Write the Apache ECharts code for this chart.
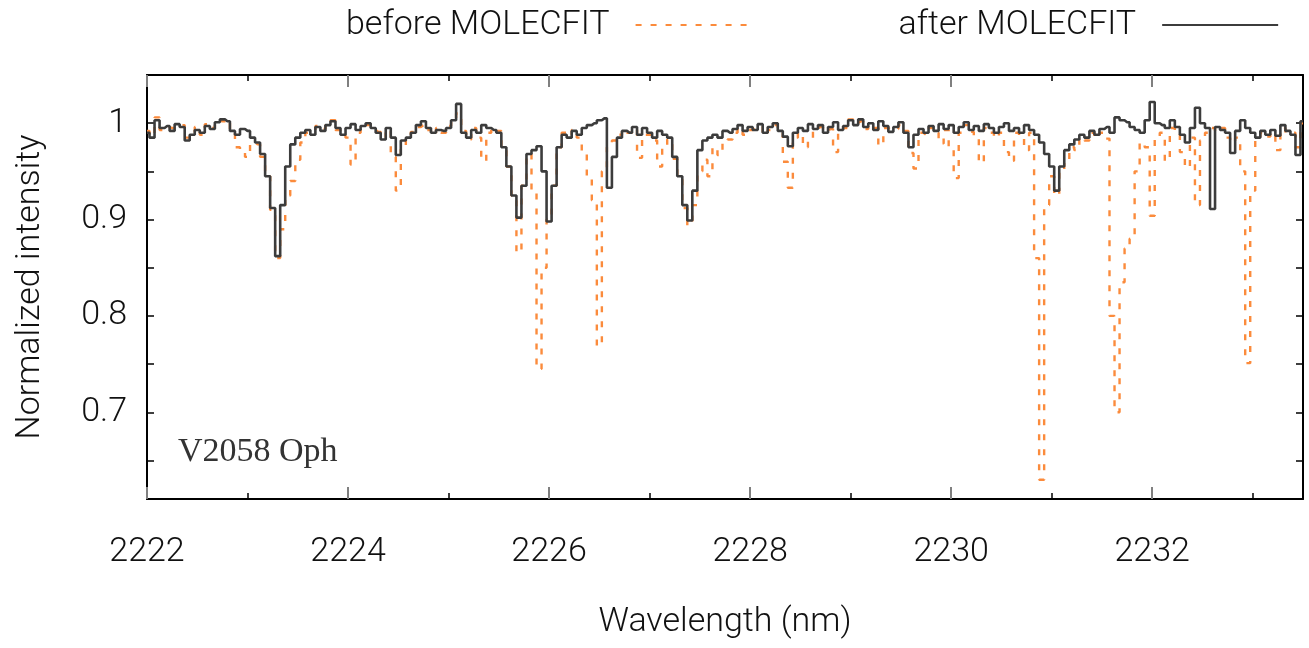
<!DOCTYPE html>
<html>
<head>
<meta charset="utf-8">
<script src="https://cdn.jsdelivr.net/npm/echarts@6/dist/echarts.min.js"></script>
<style>
html, body { margin: 0; background: #fff; }
#chart { width: 1309px; height: 648px; }
</style>
</head>
<body>
<div id="chart"></div>
<script>
// sampling grid of the spectrum (nm)
const wlStart = 2222;
const wlStep = 0.05;

// normalized flux before telluric correction
const beforeFlux = [
  0.992, 0.987, 1.006, 0.993, 0.996, 0.995, 0.997, 0.998, 0.985, 0.990,
  0.996, 0.988, 0.999, 0.995, 1.003, 1.002, 1.004, 0.990, 0.975, 0.970,
  0.965, 0.980, 0.978, 0.965, 0.945, 0.910, 0.860, 0.890, 0.925, 0.940,
  0.962, 0.980, 0.990, 0.992, 0.997, 0.994, 0.999, 1.003, 0.993, 0.990,
  0.985, 0.957, 0.990, 0.995, 0.998, 0.993, 0.991, 0.985, 0.993, 0.965,
  0.930, 0.975, 0.987, 0.991, 0.996, 0.998, 0.993, 0.988, 0.995, 0.990,
  0.997, 1.000, 1.010, 0.992, 0.983, 0.995, 0.985, 0.961, 0.990, 0.995,
  0.992, 0.975, 0.955, 0.925, 0.866, 0.935, 0.968, 0.930, 0.745, 0.850,
  0.900, 0.935, 0.975, 0.990, 0.987, 0.993, 0.985, 0.970, 0.945, 0.920,
  0.769, 0.950, 0.975, 0.982, 0.988, 0.993, 0.990, 0.994, 0.964, 0.988,
  0.988, 0.982, 0.955, 0.975, 0.983, 0.963, 0.943, 0.912, 0.894, 0.915,
  0.950, 0.962, 0.945, 0.975, 0.967, 0.980, 0.983, 0.990, 0.995, 0.988,
  0.993, 0.995, 0.997, 0.988, 0.993, 0.998, 0.990, 0.960, 0.933, 0.985,
  0.990, 0.975, 0.983, 0.995, 0.996, 0.992, 0.994, 0.970, 0.990, 0.995,
  1.004, 1.000, 1.002, 0.994, 0.998, 0.995, 0.977, 0.995, 0.993, 0.994,
  0.998, 0.992, 0.969, 0.953, 0.990, 0.988, 0.995, 0.990, 0.979, 0.993,
  0.975, 0.943, 0.990, 0.998, 0.991, 0.985, 0.959, 0.995, 0.990, 0.985,
  0.990, 0.970, 0.961, 0.990, 0.985, 0.972, 0.990, 0.860, 0.630, 0.915,
  0.945, 0.925, 0.950, 0.960, 0.975, 0.972, 0.985, 0.982, 0.990, 0.985,
  0.990, 0.984, 0.800, 0.700, 0.835, 0.870, 0.880, 0.950, 0.980, 0.975,
  0.904, 0.985, 0.990, 0.961, 0.995, 0.990, 0.970, 0.954, 0.985, 0.915,
  0.982, 0.990, 0.995, 0.992, 0.995, 0.985, 0.980, 0.985, 0.950, 0.751,
  0.930, 0.985, 0.990, 0.986, 0.990, 0.972, 0.995, 0.990, 0.990, 0.975,
  1.000
];

// normalized flux after MOLECFIT
const afterFlux = [
  0.990, 0.985, 1.003, 0.995, 0.997, 0.992, 0.999, 0.996, 0.982, 0.988,
  0.993, 0.990, 0.997, 0.994, 1.001, 1.004, 1.002, 0.992, 0.988, 0.994,
  0.992, 0.985, 0.980, 0.968, 0.945, 0.912, 0.862, 0.915, 0.955, 0.978,
  0.985, 0.990, 0.993, 0.988, 0.996, 0.992, 0.998, 1.002, 0.995, 0.988,
  0.995, 0.999, 0.993, 0.997, 1.000, 0.995, 0.990, 0.983, 0.995, 0.985,
  0.967, 0.982, 0.985, 0.990, 0.998, 1.002, 0.995, 0.990, 0.993, 0.992,
  0.995, 1.003, 1.020, 0.990, 0.985, 0.993, 0.990, 0.998, 0.995, 0.993,
  0.990, 0.975, 0.955, 0.925, 0.902, 0.935, 0.968, 0.972, 0.976, 0.950,
  0.898, 0.935, 0.975, 0.988, 0.985, 0.992, 0.988, 0.995, 0.998, 1.000,
  1.003, 1.005, 0.933, 0.965, 0.985, 0.992, 0.990, 0.996, 0.988, 0.995,
  0.990, 0.985, 0.992, 0.988, 0.985, 0.965, 0.945, 0.915, 0.899, 0.930,
  0.972, 0.982, 0.985, 0.988, 0.985, 0.992, 0.990, 0.994, 0.998, 0.992,
  0.996, 0.993, 0.999, 0.990, 0.996, 1.000, 0.992, 0.986, 0.976, 0.990,
  0.995, 0.992, 0.999, 0.994, 0.998, 0.990, 0.996, 1.001, 0.993, 0.997,
  1.003, 0.998, 1.004, 0.996, 1.000, 0.993, 1.002, 0.997, 0.991, 0.996,
  1.001, 0.990, 0.975, 0.988, 0.994, 0.990, 0.997, 0.992, 0.999, 0.994,
  0.998, 0.990, 0.996, 1.001, 0.993, 0.997, 0.992, 0.999, 0.995, 0.990,
  0.996, 1.000, 0.992, 0.995, 0.990, 0.998, 0.993, 0.988, 0.980, 0.968,
  0.955, 0.930, 0.955, 0.972, 0.978, 0.983, 0.988, 0.985, 0.992, 0.988,
  0.994, 0.996, 0.990, 1.006, 1.003, 1.001, 0.996, 0.993, 0.990, 1.003,
  1.022, 1.000, 0.998, 0.995, 1.003, 0.996, 0.988, 0.980, 0.995, 1.016,
  1.000, 0.995, 0.911, 0.996, 0.993, 0.990, 0.969, 0.992, 1.003, 0.995,
  0.990, 0.985, 0.992, 0.988, 0.993, 0.987, 0.998, 0.992, 0.988, 0.967,
  1.002
];

const xMajorTicks = [2222, 2224, 2226, 2228, 2230, 2232];
const xMinorTicks = [2223, 2225, 2227, 2229, 2231, 2233];
const yLabels = [0.7, 0.8, 0.9, 1];
const yTicks = [0.65, 0.7, 0.75, 0.8, 0.85, 0.9, 0.95, 1];

const wavelength = beforeFlux.map((_, i) => +(wlStart + i * wlStep).toFixed(2));

const chart = echarts.init(document.getElementById('chart'));

const fontSize = 34;
const labelFont = {fontSize: fontSize, color: '#111', fontFamily: 'Roboto', fontWeight: 300};
const xRange = {type: 'value', min: 2222, max: 2233.5, splitLine: {show: false}};
const yRange = {type: 'value', min: 0.61, max: 1.05, splitLine: {show: false}};

const majorX = (position, showLine) => Object.assign({}, xRange, {
    position: position,
    axisLine: {show: showLine, lineStyle: {color: '#000', width: 2}},
    axisTick: {inside: true, length: 12, customValues: xMajorTicks, lineStyle: {color: '#808080', width: 2}},
    axisLabel: {show: false, customValues: xMajorTicks}
});
const minorX = (position) => Object.assign({}, xRange, {
    position: position,
    axisLine: {show: false},
    axisTick: {inside: true, length: 6, customValues: xMinorTicks, lineStyle: {color: '#000', width: 1.5}},
    axisLabel: {show: false, customValues: xMinorTicks}
});

const bottomAxis = majorX('bottom', true);
bottomAxis.axisLabel = Object.assign({
    show: true, customValues: xMajorTicks, margin: 36,
    formatter: v => String(v)
}, labelFont);
bottomAxis.name = 'Wavelength (nm)';
bottomAxis.nameLocation = 'middle';
bottomAxis.nameGap = 106;
bottomAxis.nameTextStyle = labelFont;

const sideY = (position, showLabels) => Object.assign({}, yRange, {
    position: position,
    axisLine: {show: true, lineStyle: {color: '#000', width: 2}},
    axisTick: {inside: true, length: 7, customValues: yTicks, lineStyle: {color: '#000', width: 1.5}},
    axisLabel: Object.assign({show: showLabels, customValues: yLabels, margin: 20}, labelFont)
});

const leftAxis = sideY('left', true);
leftAxis.name = 'Normalized intensity';
leftAxis.nameLocation = 'middle';
leftAxis.nameGap = 100;
leftAxis.nameTextStyle = labelFont;

const option = {
    animation: false,
    textStyle: {fontFamily: 'Roboto'},
    grid: {left: 147, right: 6, top: 75, bottom: 149},
    legend: {
        top: 3,
        left: 341,
        align: 'right',
        itemGap: 146,
        itemWidth: 116,
        itemHeight: 20,
        itemStyle: {opacity: 0},
        textStyle: Object.assign({padding: [0, 21, 0, 0]}, labelFont),
        data: ['before MOLECFIT', 'after MOLECFIT']
    },
    xAxis: [bottomAxis, minorX('bottom'), majorX('top', true), minorX('top')],
    yAxis: [leftAxis, sideY('right', false)],
    graphic: [{
        type: 'text',
        left: 178,
        top: 435,
        style: {text: 'V2058 Oph', fontSize: 34, fontFamily: 'Liberation Serif', fill: '#333'}
    }],
    series: [
        {
            name: 'before MOLECFIT',
            type: 'line',
            step: 'middle',
            showSymbol: false,
            symbol: 'none',
            lineStyle: {color: '#fb8b3c', width: 2.4, type: [6, 9]},
            itemStyle: {color: '#fb8b3c'},
            data: wavelength.map((w, i) => [w, beforeFlux[i]])
        },
        {
            name: 'after MOLECFIT',
            type: 'line',
            step: 'middle',
            showSymbol: false,
            symbol: 'none',
            lineStyle: {color: '#3c3c3c', width: 2.6},
            itemStyle: {color: '#3c3c3c'},
            data: wavelength.map((w, i) => [w, afterFlux[i]])
        }
    ]
};

chart.setOption(option);
</script>
</body>
</html>
